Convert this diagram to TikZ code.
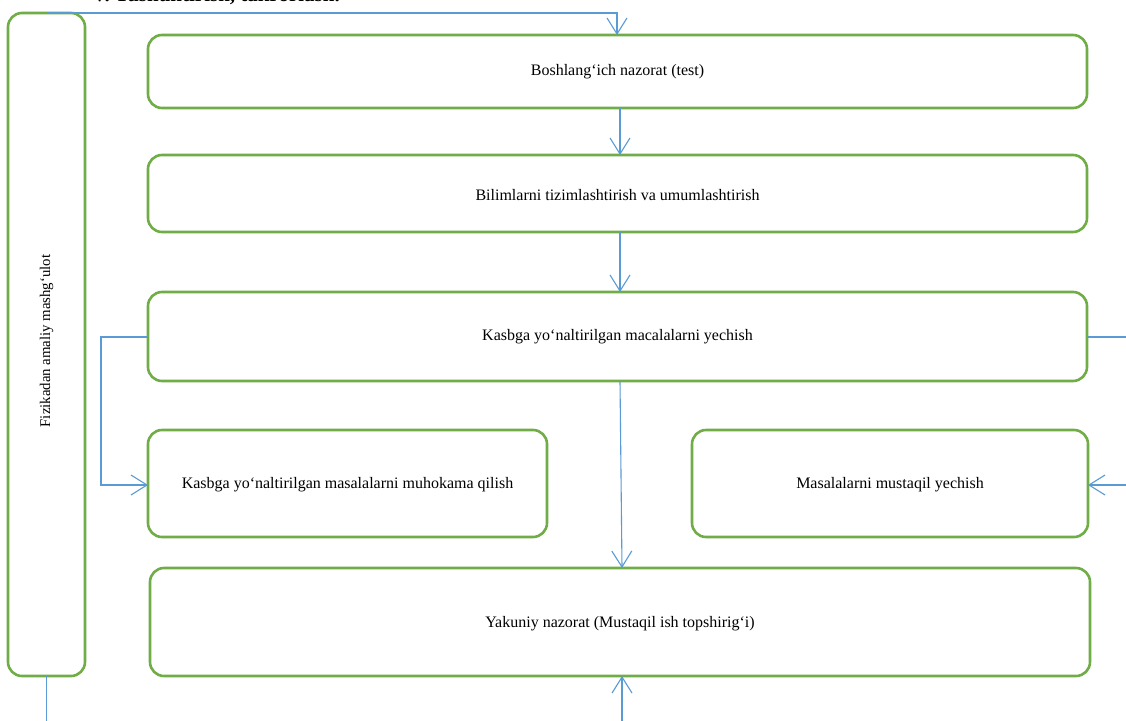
\documentclass[tikz,border=0pt]{standalone}
\usepackage{fontspec}
\setmainfont{Liberation Serif}
\usetikzlibrary{arrows.meta}
\definecolor{gbord}{HTML}{70AD47}
\definecolor{bline}{HTML}{5B9BD5}
\tikzset{
  box/.style={draw=gbord, line width=2.6pt, rounded corners=14pt, fill=white},
  lbl/.style={font=\fontsize{16}{19}\selectfont, align=center},
  conn/.style={draw=bline, line width=1.1pt},
  arr/.style={conn, -{Straight Barb[length=16pt,width=20pt,line width=1.1pt]}}
}
\begin{document}
\begin{tikzpicture}[x=1pt,y=-1pt]
\useasboundingbox (0,0) rectangle (1126,720);
\clip (0,0) rectangle (1126,720);
\fill[white] (0,0) rectangle (1126,720);
% clipped heading at top edge
\node[anchor=south west, inner sep=0pt, font=\bfseries\fontsize{21}{24}\selectfont] (head) at (92,4.5) {V. Tushuntirish, takrorlash.};
% boxes
\draw[box] (8,13) rectangle (85,676);
\coordinate (L) at (46.5,341);
\node[lbl, font=\fontsize{14.8}{18}\selectfont, rotate=90] (Ltxt) at (L) {Fizikadan amaliy mashg‘ulot};
\coordinate (Ln) at (46.5,13);
\coordinate (Ls) at (46.5,676);

\draw[box] (148,35) rectangle (1087,108);
\node[lbl] (b1) at (617.5,71.5) {Boshlang‘ich nazorat (test)};
\coordinate (b1n) at (620,35); \coordinate (b1s) at (620,108);

\draw[box] (148,155) rectangle (1087,232);
\node[lbl] (b2) at (617.5,195) {Bilimlarni tizimlashtirish va umumlashtirish};
\coordinate (b2n) at (620,155); \coordinate (b2s) at (620,232);

\draw[box] (148,292) rectangle (1087,381);
\node[lbl] (b3) at (617.5,337) {Kasbga yo‘naltirilgan macalalarni yechish};
\coordinate (b3n) at (620,292); \coordinate (b3s) at (620,381);
\coordinate (b3w) at (148,337); \coordinate (b3e) at (1087,337);

\draw[box] (148,430) rectangle (547,537);
\node[lbl] (b4) at (347.5,485) {Kasbga yo‘naltirilgan masalalarni muhokama qilish};
\coordinate (b4w) at (148,485);

\draw[box] (692,430) rectangle (1088,537);
\node[lbl] (b5) at (890,485) {Masalalarni mustaqil yechish};
\coordinate (b5e) at (1088,485);

\draw[box] (150,568) rectangle (1090,676);
\node[lbl] (b6) at (620,624) {Yakuniy nazorat (Mustaqil ish topshirig‘i)};
\coordinate (b6n) at (622,568); \coordinate (b6s) at (622,676);

% free ends
\coordinate (topturn) at (617,13);
\coordinate (rightout) at (1128,337);
\coordinate (rightin) at (1128,485);
\coordinate (leftbend) at (101,337);
\coordinate (bottomL) at (46.5,722);
\coordinate (bottomM) at (622,722);

% connectors
\draw[arr] (Ln) -- (topturn) -- (617,35);
\draw[arr] (b1s) -- (b2n);
\draw[arr] (b2s) -- (b3n);
\draw[arr] (b3w) -- (leftbend) |- (b4w);
\draw[conn] (b3e) -- (rightout);
\draw[arr] (rightin) -- (b5e);
\draw[arr] (b3s) -- (b6n);
\draw[conn] (Ls) -- (bottomL);
\draw[arr] (bottomM) -- (b6s);
\end{tikzpicture}
\end{document}
